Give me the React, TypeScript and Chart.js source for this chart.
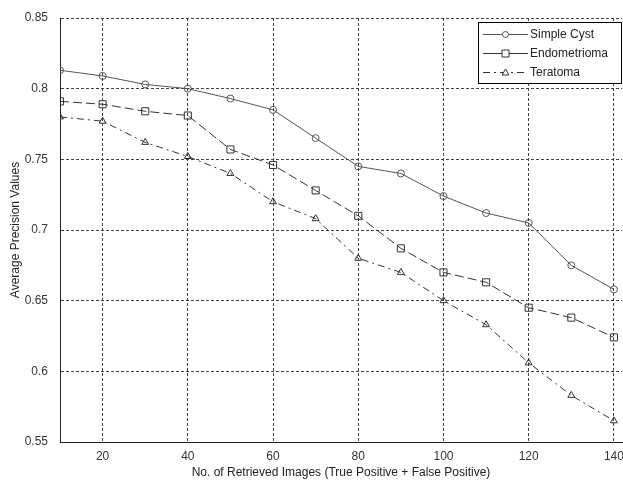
import React, { useEffect, useRef } from "react";
import { Chart, registerables } from "chart.js";

Chart.register(...registerables);

const xValues = [10, 20, 30, 40, 50, 60, 70, 80, 90, 100, 110, 120, 130, 140];
const simpleCyst = [0.813, 0.809, 0.803, 0.8, 0.793, 0.785, 0.765, 0.745, 0.74, 0.724, 0.712, 0.705, 0.675, 0.658];
const endometrioma = [0.791, 0.789, 0.784, 0.781, 0.757, 0.746, 0.728, 0.71, 0.687, 0.67, 0.663, 0.645, 0.638, 0.624];
const teratoma = [0.78, 0.777, 0.762, 0.752, 0.74, 0.72, 0.708, 0.68, 0.67, 0.65, 0.633, 0.606, 0.583, 0.565];
const seriesNames = ["Simple Cyst", "Endometrioma", "Teratoma"];
const xTicks = [20, 40, 60, 80, 100, 120, 140];
const yTicks = [0.55, 0.6, 0.65, 0.7, 0.75, 0.8, 0.85];
const xTitle = "No. of Retrieved Images (True Positive + False Positive)";
const yTitle = "Average Precision Values";

const FONT = "'Liberation Sans', Arial, sans-serif";

const legendPlugin = {
  id: "insideLegend",
  afterDraw(chart: any) {
    const ctx = chart.ctx;
    const area = chart.chartArea;
    const right = area.right;
    const left = right - 144;
    const top = area.top + 4;
    const h = 62;
    ctx.save();
    ctx.fillStyle = "#fff";
    ctx.fillRect(left, top, right - left, h);
    ctx.strokeStyle = "#000";
    ctx.lineWidth = 1;
    ctx.setLineDash([]);
    ctx.strokeRect(left + 0.5, top + 0.5, right - left - 1, h - 1);
    const rows = [top + 12, top + 31, top + 50];
    chart.data.datasets.forEach((ds: any, i: number) => {
      const y = rows[i];
      const x0 = left + 5;
      const x1 = left + 50;
      ctx.strokeStyle = ds.borderColor;
      ctx.lineWidth = 1;
      ctx.setLineDash(i === 2 ? ds.borderDash : []);
      ctx.beginPath();
      ctx.moveTo(x0, y + 0.5);
      ctx.lineTo(x1, y + 0.5);
      ctx.stroke();
      ctx.setLineDash([]);
      const cx = (x0 + x1) / 2;
      ctx.fillStyle = "#fff";
      ctx.beginPath();
      if (ds.pointStyle === "circle") {
        ctx.arc(cx, y + 0.5, 3, 0, Math.PI * 2);
        ctx.fill();
        ctx.stroke();
      } else if (ds.pointStyle === "rect") {
        ctx.rect(cx - 3.5, y - 3, 7, 7);
        ctx.fill();
        ctx.stroke();
      } else {
        ctx.moveTo(cx, y - 3);
        ctx.lineTo(cx + 3.5, y + 3);
        ctx.lineTo(cx - 3.5, y + 3);
        ctx.closePath();
        ctx.fill();
        ctx.stroke();
      }
      ctx.fillStyle = "#222";
      ctx.font = `12px ${FONT}`;
      ctx.textBaseline = "middle";
      ctx.textAlign = "left";
      ctx.fillText(ds.label, x1 + 2, y + 1);
    });
    ctx.restore();
  },
};

export default function App() {
  const ref = useRef<HTMLCanvasElement>(null);
  useEffect(() => {
    document.body.style.margin = "0";
    const canvas = ref.current!;
    const chart = new Chart(canvas, {
      type: "line",
      data: {
        datasets: [
          {
            label: seriesNames[0],
            data: xValues.map((x, i) => ({ x, y: simpleCyst[i] })),
            borderColor: "#555",
            borderWidth: 1,
            pointStyle: "circle",
            pointRadius: 3.5,
            pointBorderColor: "#555",
            pointBackgroundColor: "rgba(0,0,0,0)",
            pointBorderWidth: 1,
            fill: false,
          },
          {
            label: seriesNames[1],
            data: xValues.map((x, i) => ({ x, y: endometrioma[i] })),
            borderColor: "#333",
            borderWidth: 1,
            borderDash: [9, 4],
            pointStyle: "rect",
            pointRadius: 5,
            pointBorderColor: "#333",
            pointBackgroundColor: "rgba(0,0,0,0)",
            pointBorderWidth: 1,
            fill: false,
          },
          {
            label: seriesNames[2],
            data: xValues.map((x, i) => ({ x, y: teratoma[i] })),
            borderColor: "#333",
            borderWidth: 1,
            borderDash: [7, 4, 2, 4],
            pointStyle: "triangle",
            pointRadius: 4,
            pointBorderColor: "#333",
            pointBackgroundColor: "rgba(0,0,0,0)",
            pointBorderWidth: 1,
            fill: false,
          },
        ],
      },
      options: {
        responsive: false,
        animation: false,
        layout: { autoPadding: false, padding: { top: 18, right: 1, left: 8, bottom: 0 } },
        plugins: { legend: { display: false }, tooltip: { enabled: false } },
        scales: {
          x: {
            type: "linear",
            min: 10,
            max: 141.9,
            afterBuildTicks: (s: any) => {
              s.ticks = xTicks.map((v) => ({ value: v }));
            },
            afterFit: (s: any) => {
              s.height = 38;
              s.paddingLeft = 0;
              s.paddingRight = 0;
            },
            grid: { color: "#444", lineWidth: 1, drawTicks: false },
            border: { display: true, color: "#222", width: 1, dash: [3, 2] },
            ticks: {
              padding: 7,
              color: "#333",
              font: { family: FONT, size: 12 },
              callback: (v: any) => String(v),
            },
            title: {
              display: true,
              text: xTitle,
              color: "#222",
              font: { family: FONT, size: 12 },
              padding: { top: 0, bottom: 0 },
            },
          },
          y: {
            type: "linear",
            min: 0.55,
            max: 0.85,
            afterBuildTicks: (s: any) => {
              s.ticks = yTicks.map((v) => ({ value: v }));
            },
            afterFit: (s: any) => {
              s.width = 52;
              s.paddingTop = 0;
              s.paddingBottom = 0;
            },
            grid: { color: "#444", lineWidth: 1, drawTicks: false },
            border: { display: true, color: "#222", width: 1, dash: [3, 2] },
            ticks: {
              padding: 12,
              color: "#333",
              font: { family: FONT, size: 12 },
              callback: (v: any) => String(Math.round(v * 100) / 100),
            },
            title: {
              display: true,
              text: yTitle,
              color: "#222",
              font: { family: FONT, size: 12 },
              padding: { top: 0, bottom: 0 },
            },
          },
        },
      },
      plugins: [legendPlugin],
    });
    return () => chart.destroy();
  }, []);
  return (
    <div style={{ width: 623, height: 480 }}>
      <canvas ref={ref} width={623} height={480} style={{ display: "block" }} />
    </div>
  );
}
